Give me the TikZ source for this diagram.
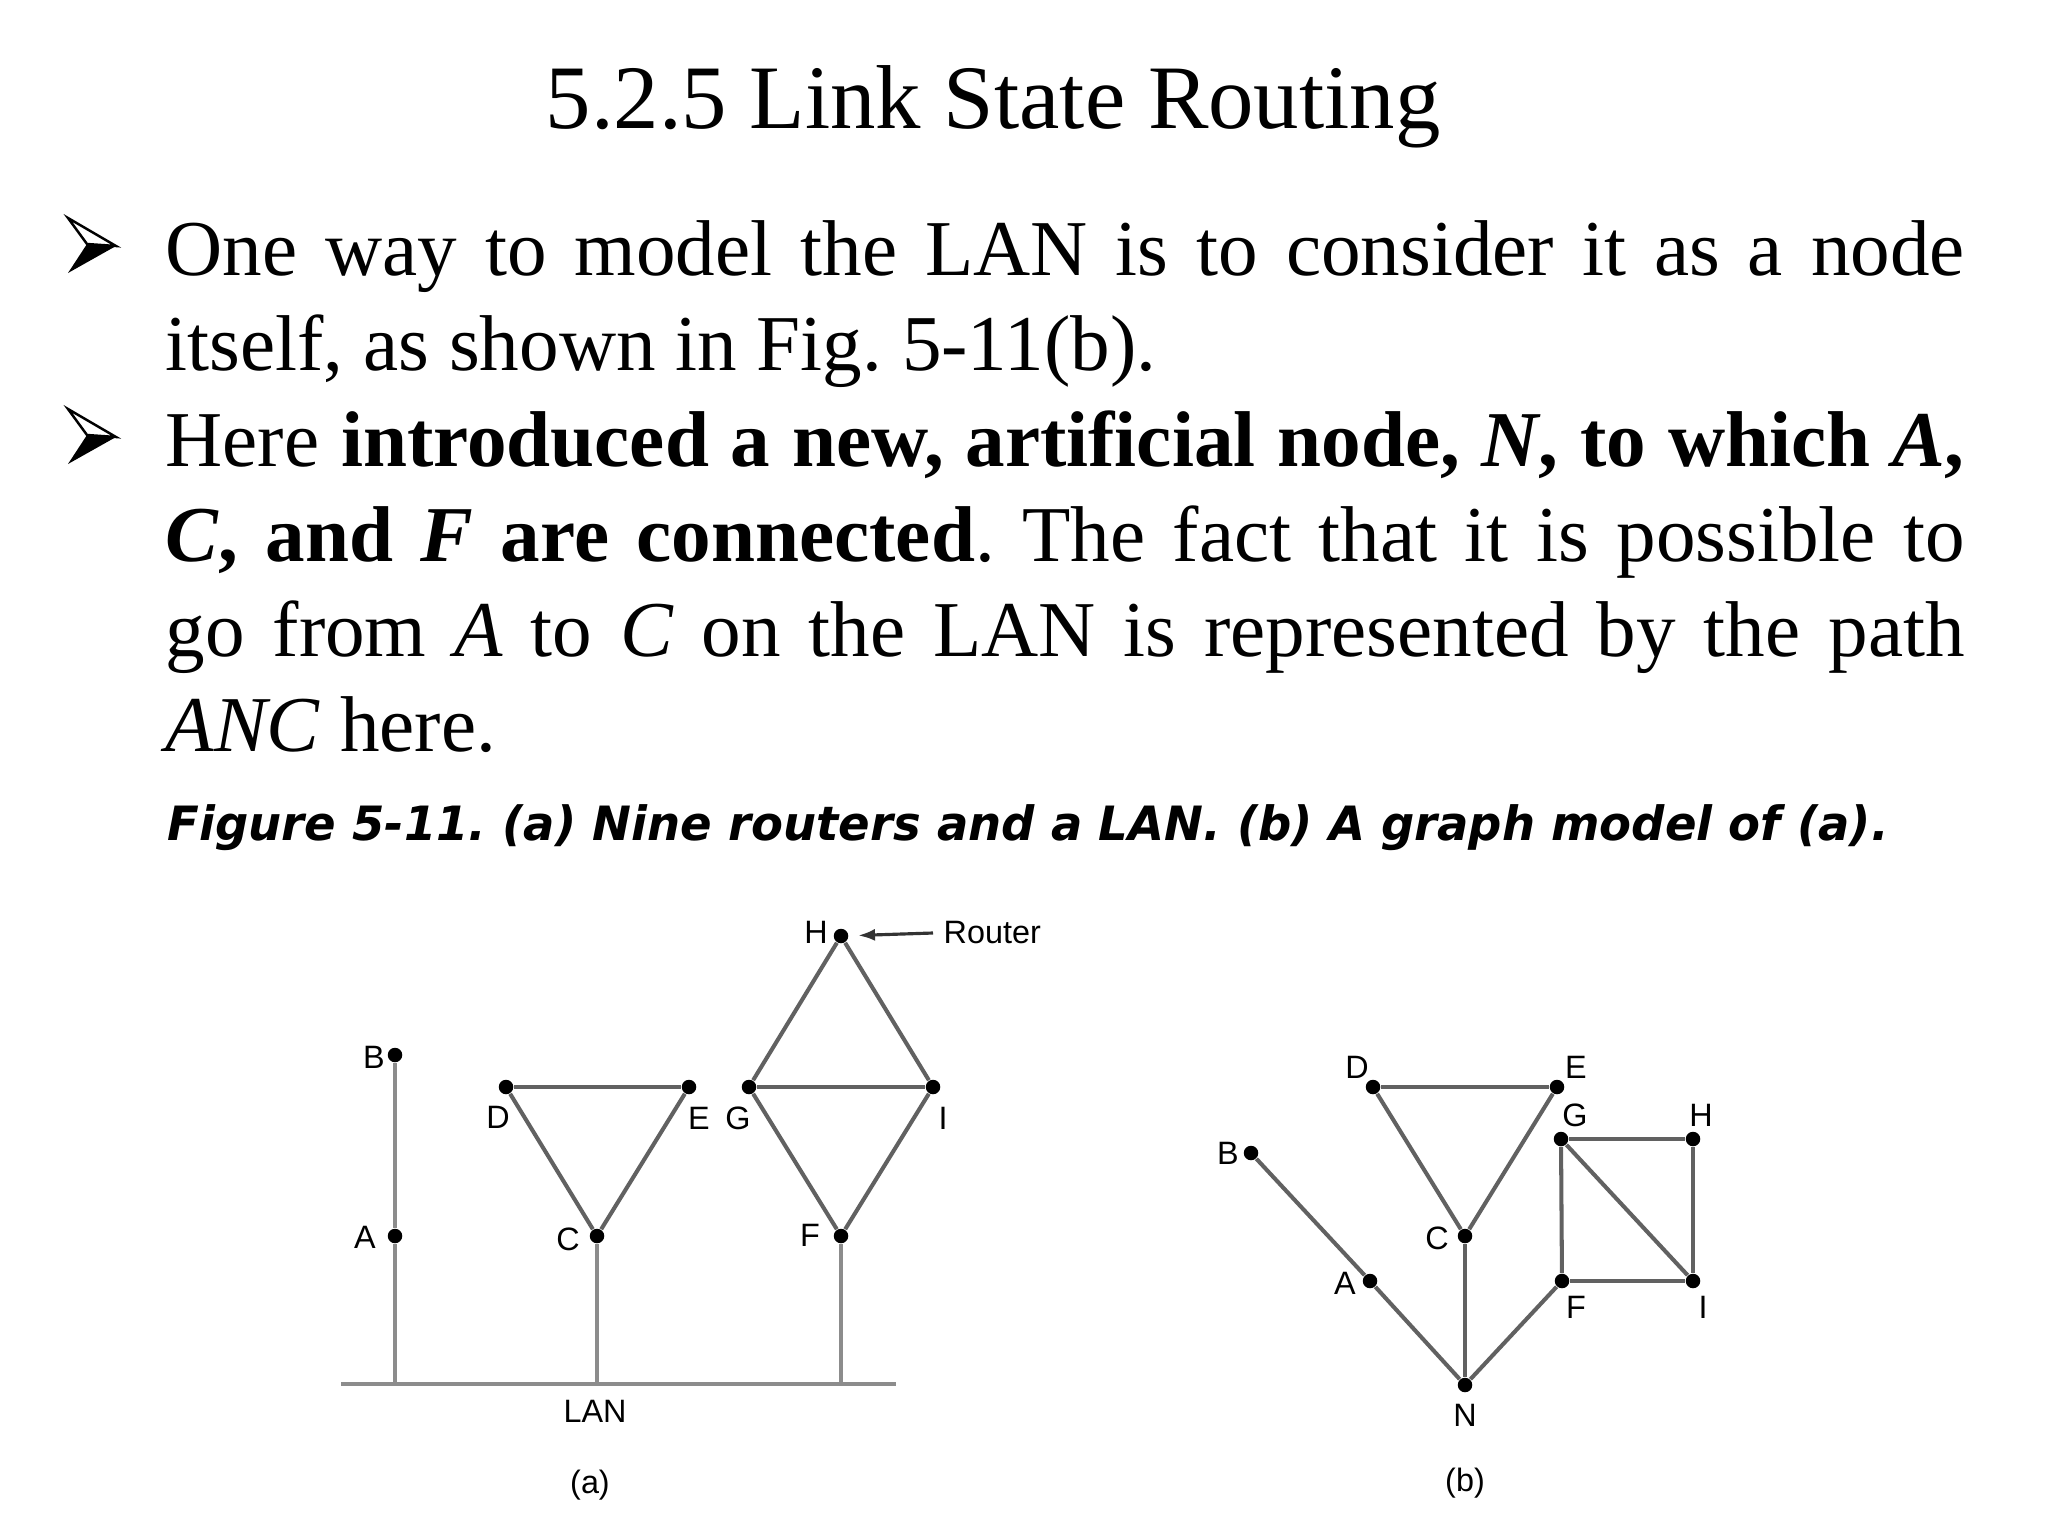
\documentclass[tikz,border=0pt]{standalone}
\usepackage{fontspec}
\setmainfont{Liberation Serif}
\newfontfamily\labelfont{Liberation Sans}
\newfontfamily\captionfont{DejaVu Sans Bold Oblique}
\usepackage{graphicx}
\usetikzlibrary{arrows.meta}
\frenchspacing
\hyphenpenalty=10000
\exhyphenpenalty=10000
\tolerance=10000

\tikzset{
  router/.style={circle, fill=black, inner sep=0pt, minimum size=0.145cm},
  tag/.style={font=\labelfont\fontsize{9.2}{10}\selectfont, text=black, inner sep=0pt},
  link/.style={draw=black!62, line width=1.15pt},
  wire/.style={draw=black!45, line width=1.3pt},
  pointer/.style={draw=black!80, line width=0.9pt, -{Latex[length=0.17cm,width=0.12cm]}},
  bodytext/.style={anchor=base west, inner sep=0pt, text width=17.98cm, align=justify,
    font=\fontsize{22.5}{27.1}\selectfont},
}

\begin{document}
\begin{tikzpicture}[x=0.01cm, y=-0.01cm]
  \useasboundingbox (0,0) rectangle (2048,1536);
  \fill[white] (0,0) rectangle (2048,1536);

  % title and text
  \node[anchor=base, inner sep=0pt, font=\fontsize{25.8}{30}\selectfont] (title) at (993,128) {5.2.5 Link State Routing};

  \foreach \y in {275,466} {
    \fill[black] (87,\y-31) -- (116,\y-29) -- (68,\y-2) -- cycle;
    \draw[line width=0.7pt, line join=miter] (68,\y-57) -- (116,\y-29) -- (87,\y-31) -- cycle;
  }

  \node[bodytext] (para1) at (165,275) {One way to model the LAN is to consider it as a node\linebreak
    itself, as shown in Fig. 5-11(b).};
  \node[bodytext] (para2) at (165,466) {Here \textbf{introduced a new, artificial node, \textit{N}, to which \textit{A},}\linebreak
    \textbf{\textit{C}, and \textit{F} are connected}. The fact that it is possible to\linebreak
    go from \textit{A} to \textit{C} on the LAN is represented by the path\linebreak
    \textit{ANC} here.};

  \node[anchor=base west, inner sep=0pt, font=\captionfont\fontsize{12}{14}\selectfont] (caption) at (167,840)
    {\scalebox{1.102}[1.12]{Figure 5-11. (a) Nine routers and a LAN. (b) A graph model of (a).}};

  % (a) nine routers and a LAN
  \node[router] (aB) at (395,1055) {};
  \node[router] (aA) at (395,1236) {};
  \node[router] (aC) at (597,1236) {};
  \node[router] (aD) at (506,1087) {};
  \node[router] (aE) at (689,1087) {};
  \node[router] (aG) at (749,1087) {};
  \node[router] (aI) at (933,1087) {};
  \node[router] (aH) at (841,936) {};
  \node[router] (aF) at (841,1236) {};

  \coordinate (lanW) at (341,1384);
  \coordinate (lanE) at (896,1384);
  \coordinate (tapA) at (395,1384);
  \coordinate (tapC) at (597,1384);
  \coordinate (tapF) at (841,1384);

  \draw[wire] (lanW) -- (lanE);
  \foreach \r/\t in {aA/tapA, aC/tapC, aF/tapF} {
    \draw[wire] (\r) -- (\t);
  }
  \draw[wire] (aB) -- (aA);
  \foreach \u/\v in {aD/aE, aD/aC, aE/aC, aG/aI, aG/aH, aH/aI, aG/aF, aI/aF} {
    \draw[link] (\u) -- (\v);
  }

  \node[tag] (laB) at (374,1057) {B};
  \node[tag] (laA) at (365,1237) {A};
  \node[tag] (laD) at (498,1117) {D};
  \node[tag] (laE) at (699,1118) {E};
  \node[tag] (laG) at (738,1118) {G};
  \node[tag] (laI) at (943,1118) {I};
  \node[tag] (laC) at (568,1239) {C};
  \node[tag] (laF) at (810,1235) {F};
  \node[tag] (laH) at (816,932) {H};
  \node[tag] (laLAN) at (595,1411) {LAN};
  \node[tag] (lSubA) at (590,1485) {(a)};

  \node[tag, anchor=west, inner xsep=0.1cm] (aRtr) at (933,933) {Router};
  \draw[pointer, shorten >=0.09cm] (aRtr.west) -- (aH);

  % (b) graph model
  \node[router] (bD) at (1373,1087) {};
  \node[router] (bE) at (1557,1087) {};
  \node[router] (bG) at (1561,1139) {};
  \node[router] (bH) at (1693,1139) {};
  \node[router] (bB) at (1251,1153) {};
  \node[router] (bC) at (1465,1236) {};
  \node[router] (bA) at (1370,1281) {};
  \node[router] (bF) at (1562,1281) {};
  \node[router] (bI) at (1693,1281) {};
  \node[router] (bN) at (1465,1385) {};

  \foreach \u/\v in {bB/bA, bA/bN, bC/bN, bN/bF, bD/bE, bD/bC, bE/bC,
                     bG/bH, bH/bI, bG/bI, bG/bF, bF/bI} {
    \draw[link] (\u) -- (\v);
  }

  \node[tag] (lbD) at (1357,1067) {D};
  \node[tag] (lbE) at (1576,1067) {E};
  \node[tag] (lbG) at (1575,1115) {G};
  \node[tag] (lbH) at (1701,1115) {H};
  \node[tag] (lbB) at (1228,1153) {B};
  \node[tag] (lbC) at (1437,1238) {C};
  \node[tag] (lbA) at (1345,1283) {A};
  \node[tag] (lbF) at (1576,1307) {F};
  \node[tag] (lbI) at (1703,1307) {I};
  \node[tag] (lbN) at (1465,1415) {N};
  \node[tag] (lSubB) at (1465,1483) {(b)};
\end{tikzpicture}
\end{document}
